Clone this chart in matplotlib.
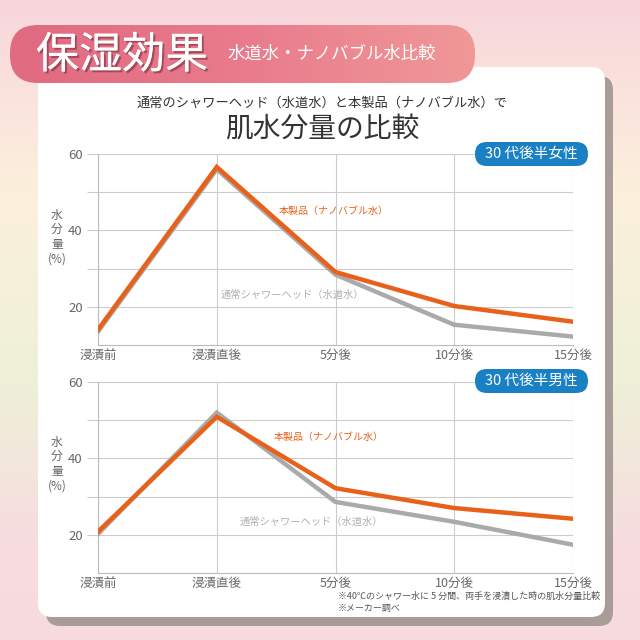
import numpy as np
import matplotlib
matplotlib.use("Agg")
import matplotlib.pyplot as plt
from matplotlib.patches import FancyBboxPatch
from matplotlib.colors import LinearSegmentedColormap
import matplotlib.patheffects as pe

plt.rcParams['font.family'] = ['Noto Sans CJK JP', 'DejaVu Sans']

# ---- data ----
categories = ['浸漬前', '浸漬直後', '5分後', '10分後', '15分後']
female_nano = [14.0, 56.6, 29.1, 20.2, 16.1]
female_tap = [13.5, 56.0, 28.4, 15.3, 12.2]
male_nano = [20.8, 50.9, 32.2, 27.0, 24.2]
male_tap = [20.2, 52.0, 28.6, 23.4, 17.4]
y_ticks = [20, 30, 40, 50, 60]
y_ticklabels = ['20', '', '40', '', '60']
nano_label = '本製品（ナノバブル水）'
tap_label = '通常シャワーヘッド（水道水）'
badge_female = '30 代後半女性'
badge_male = '30 代後半男性'

ORANGE = '#e8611a'
GRAY = '#aaaaaa'
TXT = '#666666'

fig = plt.figure(figsize=(6.4, 6.4), dpi=100)

# background in pixel coordinates
bg = fig.add_axes([0, 0, 1, 1], zorder=0)
bg.axis('off')
cmap = LinearSegmentedColormap.from_list('bg', [
    (0.0, '#f8d6dc'), (0.3, '#fcf0dc'), (0.6, '#eef0d8'), (0.85, '#f7dcdf'), (1.0, '#f8dade')])
grad = np.linspace(0, 1, 256).reshape(-1, 1)
bg.imshow(grad, cmap=cmap, extent=[0, 640, 640, 0], aspect='auto', zorder=0)

# panel shadow and panel
sh = FancyBboxPatch((46, 76), 567, 550, boxstyle='round,pad=0,rounding_size=14',
                    fc='#a89c98', ec='none', zorder=1)
bg.add_patch(sh)
panel = FancyBboxPatch((38, 67), 567, 550, boxstyle='round,pad=0,rounding_size=14',
                       fc='white', ec='none', zorder=2)
bg.add_patch(panel)

# banner with gradient
banner = FancyBboxPatch((10, 25), 465, 58, boxstyle='round,pad=0,rounding_size=28',
                        fc='none', ec='none', zorder=3)
bg.add_patch(banner)
bcmap = LinearSegmentedColormap.from_list('ban', ['#e06a80', '#e97b8c', '#f09898'])
im = bg.imshow(np.linspace(0, 1, 256).reshape(1, -1), cmap=bcmap,
               extent=[10, 475, 83, 25], aspect='auto', zorder=3)
im.set_clip_path(banner)
bg.set_xlim(0, 640)
bg.set_ylim(640, 0)

bg.text(36, 56, '保湿効果', fontsize=31, color='white', va='center', ha='left', zorder=5,
        path_effects=[pe.withSimplePatchShadow(offset=(1.5, -1.5), shadow_rgbFace='#7a3040', alpha=0.6), pe.Normal()])
bg.text(228, 54, '水道水・ナノバブル水比較', fontsize=12.5, color='white', va='center', ha='left', zorder=5)

bg.text(322, 103, '通常のシャワーヘッド（水道水）と本製品（ナノバブル水）で', fontsize=9.5,
        color='#333333', ha='center', va='center', zorder=5)
bg.text(322, 129, '肌水分量の比較', fontsize=20, color='#333333', ha='center', va='center', zorder=5)

bg.text(338, 596, '※40℃のシャワー水に 5 分間、両手を浸漬した時の肌水分量比較', fontsize=6.5,
        color='#555555', ha='left', va='center', zorder=5)
bg.text(338, 608, '※メーカー調べ', fontsize=6.5, color='#555555', ha='left', va='center', zorder=5)

# overlay for badges
ov = fig.add_axes([0, 0, 1, 1], zorder=10)
ov.axis('off')
ov.patch.set_alpha(0)
ov.set_xlim(0, 640)
ov.set_ylim(640, 0)


def draw_chart(rect, nano, tap, nano_pos, tap_pos, badge, badge_y, ylabel_y):
    ax = fig.add_axes(rect, zorder=2)
    ax.patch.set_alpha(0)
    x = np.arange(len(categories))
    ax.plot(x, tap, color=GRAY, lw=3.2, solid_joinstyle='miter', zorder=3)
    ax.plot(x, nano, color=ORANGE, lw=3.2, solid_joinstyle='miter', zorder=4)
    ax.set_xlim(0, len(categories) - 1)
    ax.set_ylim(10, 60)
    ax.set_yticks(y_ticks)
    ax.set_yticklabels(y_ticklabels)
    ax.set_xticks(x)
    ax.set_xticklabels(categories)
    ax.grid(True, color='#cccccc', lw=0.8)
    ax.tick_params(axis='y', length=8, color='#cccccc', width=0.8, labelsize=9.5, labelcolor=TXT, pad=3)
    ax.tick_params(axis='x', length=0, labelsize=9, labelcolor=TXT, pad=3)
    for s in ['top', 'right']:
        ax.spines[s].set_visible(False)
    for s in ['left', 'bottom']:
        ax.spines[s].set_color('#bbbbbb')
        ax.spines[s].set_linewidth(0.8)
    ax.text(nano_pos[0], nano_pos[1], nano_label, color=ORANGE, fontsize=7.2, ha='left', va='center')
    ax.text(tap_pos[0], tap_pos[1], tap_label, color='#b0b0b0', fontsize=7.4, ha='left', va='center')
    ov.add_patch(FancyBboxPatch((475, badge_y - 12), 113, 24,
                                boxstyle='round,pad=0,rounding_size=12', fc='#1a80c4', ec='none'))
    ov.text(531, badge_y, badge, fontsize=10.5, color='white', ha='center', va='center')
    fig.text(57 / 640, 1 - ylabel_y / 640, '水\n分\n量\n(%)', fontsize=8.5, color=TXT, ha='center',
             va='center', linespacing=1.15)
    return ax


draw_chart([98 / 640, 1 - 345 / 640, 475 / 640, 191 / 640], female_nano, female_tap,
           (1.52, 45.0), (1.03, 23.1), badge_female, 154, 237)
draw_chart([98 / 640, 1 - 573 / 640, 475 / 640, 191 / 640], male_nano, male_tap,
           (1.48, 45.5), (1.19, 23.4), badge_male, 381, 464)

fig.savefig('out.png', dpi=100)
